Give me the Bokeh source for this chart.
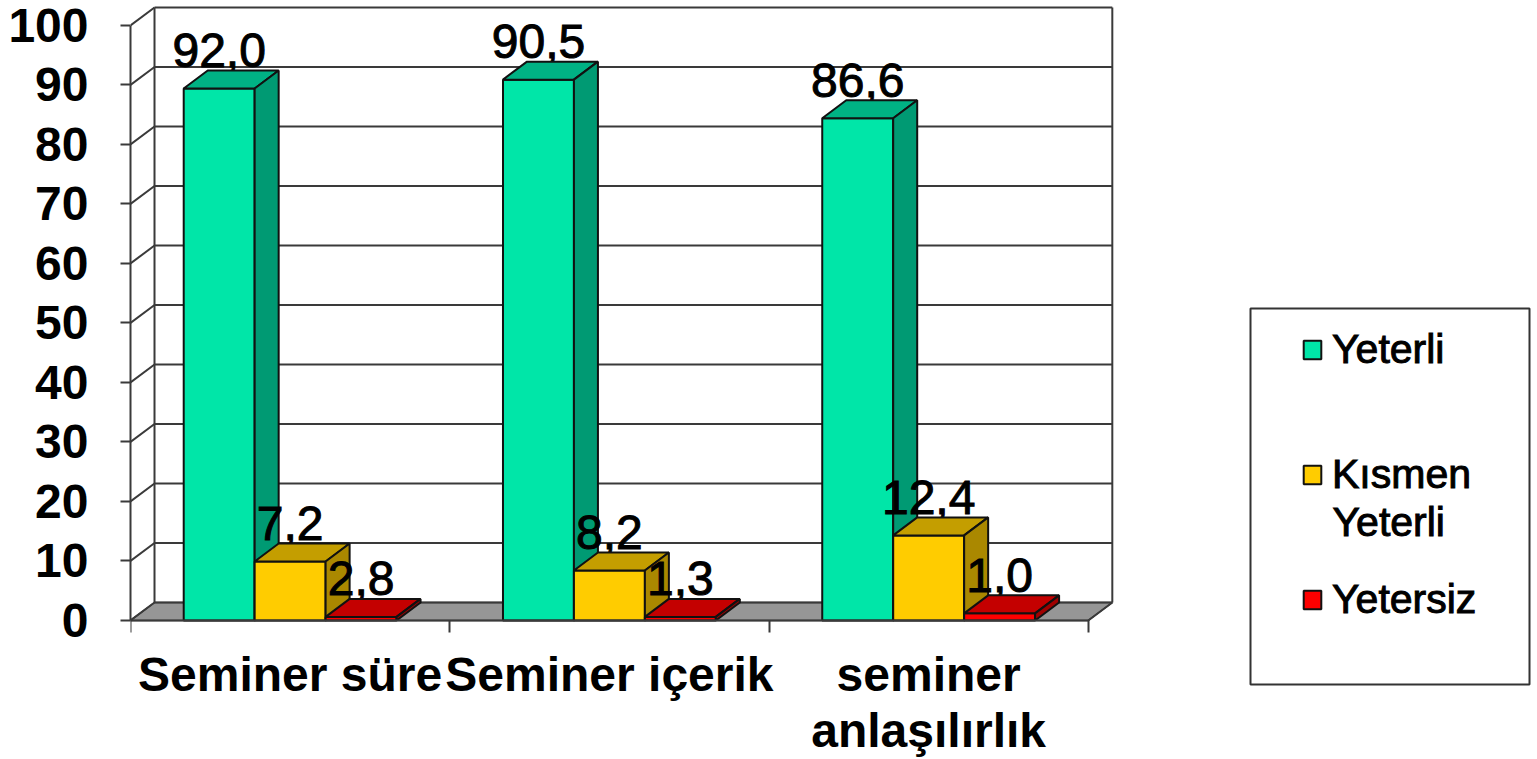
from bokeh.embed import file_html
from bokeh.resources import INLINE
from bokeh.plotting import figure
from bokeh.models import Range1d, FixedTicker, Legend, LegendItem, Label, BoxAnnotation
from bokeh.core.properties import value

categories = ["Seminer süre", "Seminer içerik", "seminer\nanlaşılırlık"]
y_ticks = [0, 10, 20, 30, 40, 50, 60, 70, 80, 90, 100]
series_names = ["Yeterli", "Kısmen", "Yetersiz"]
series_name_2nd_line = "Yeterli"
# bar heights as drawn in the picture (they differ from the printed labels)
yeterli = [89.4, 90.9, 84.4]
kismen = [9.9, 8.4, 14.3]
yetersiz = [0.6, 0.6, 1.2]
# printed labels
yeterli_labels = ["92,0", "90,5", "86,6"]
kismen_labels = ["7,2", "8,2", "12,4"]
yetersiz_labels = ["2,8", "1,3", "1,0"]

front = ["#00E6A8", "#FFCC00", "#FF0000"]
top = ["#00B284", "#C49E00", "#C40000"]
side = ["#009A73", "#AA8800", "#A00000"]

FONT = "Liberation Sans"
DX = 0.0752      # depth in x units
DY = 3.025       # depth in y units
BW = 2 / 9       # bar width
EDGE = "#3a3a3a"

p = figure(width=1535, height=757, output_backend="svg", toolbar_location=None,
           x_range=Range1d(0, 4.4007), y_range=Range1d(-23.03, 104.2),
           frame_width=1405, frame_height=757,
           min_border_left=130, min_border_right=0, min_border_top=0, min_border_bottom=0,
           outline_line_color=None, background_fill_color="white", border_fill_color="white")
p.xgrid.visible = False
p.ygrid.visible = False

# floor
ncat = len(categories)
p.patch([0, DX, ncat + DX, ncat], [0, DY, DY, 0], fill_color="#969696", line_color=EDGE, line_width=1.5)
# back wall and left wall lines
p.multi_line([[DX, ncat + DX] for _ in y_ticks] + [[0, DX] for _ in y_ticks],
             [[v + DY, v + DY] for v in y_ticks] + [[v, v + DY] for v in y_ticks],
             line_color=EDGE, line_width=2)
p.multi_line([[DX, DX], [ncat + DX, ncat + DX]],
             [[DY, y_ticks[-1] + DY], [DY, y_ticks[-1] + DY]],
             line_color=EDGE, line_width=2)
p.line([ncat, ncat + DX], [0, DY], line_color=EDGE, line_width=2)

items = []
all_vals = [yeterli, kismen, yetersiz]
all_labels = [yeterli_labels, kismen_labels, yetersiz_labels]
for s, (vals, labs) in enumerate(zip(all_vals, all_labels)):
    lefts = [i + (1 - 3 * BW) / 2 + s * BW for i in range(ncat)]
    centers = [l + BW / 2 for l in lefts]
    p.text(centers, [v + DY for v in vals], text=labs, text_font=value(FONT),
           text_font_size="48px", text_color="black", text_align="center",
           text_outline_color="black",
           text_baseline="alphabetic", y_offset=-20)
    r = p.vbar(x=centers, top=vals, bottom=0, width=BW, fill_color=front[s],
               line_color="#111111", line_width=2)
    p.patches([[l, l + DX, l + BW + DX, l + BW] for l in lefts],
              [[v, v + DY, v + DY, v] for v in vals],
              fill_color=top[s], line_color="#111111", line_width=2)
    p.patches([[l + BW, l + BW + DX, l + BW + DX, l + BW] for l in lefts],
              [[v, v + DY, DY, 0] for v in vals],
              fill_color=side[s], line_color="#111111", line_width=2)
    items.append(LegendItem(label=series_names[s], renderers=[r]))

# axes
ax = p.xaxis[0]
ax.fixed_location = 0
ax.ticker = FixedTicker(ticks=[i + 0.5 for i in range(ncat)], minor_ticks=list(range(ncat + 1)))
ax.major_label_overrides = {i + 0.5: c for i, c in enumerate(categories)}
ax.bounds = (0, ncat)
ax.major_tick_line_color = None
ax.major_tick_in = 0
ax.major_tick_out = 0
ax.minor_tick_in = 0
ax.minor_tick_out = 12
ax.minor_tick_line_color = EDGE
ax.minor_tick_line_width = 2
ax.axis_line_color = EDGE
ax.axis_line_width = 2
ax.major_label_standoff = 16
ax.major_label_text_font = FONT
ax.major_label_text_font_style = "bold"
ax.major_label_text_font_size = "48px"
ax.major_label_text_line_height = 1.05
ax.major_label_text_color = "black"

ay = p.yaxis[0]
ay.ticker = FixedTicker(ticks=y_ticks)
ay.bounds = (0, 100)
ay.major_tick_in = 0
ay.major_tick_out = 10
ay.minor_tick_line_color = None
ay.major_tick_line_color = EDGE
ay.major_tick_line_width = 2
ay.axis_line_color = EDGE
ay.axis_line_width = 2
ay.major_label_standoff = 32
ay.major_label_text_font = FONT
ay.major_label_text_font_style = "bold"
ay.major_label_text_font_size = "48px"
ay.major_label_text_color = "black"

box = BoxAnnotation(left=1250, right=1529, top=308, bottom=684,
                    left_units="canvas", right_units="canvas", top_units="canvas", bottom_units="canvas",
                    fill_color="white", fill_alpha=1, line_color="#333333", line_alpha=1, line_width=2)
p.add_layout(box)

legend = Legend(items=items, location=(1171, 134), orientation="vertical",
                glyph_width=22, glyph_height=23, label_standoff=9,
                label_text_font=FONT, label_text_font_size="41px", label_text_color="black",
                label_text_outline_color="black",
                padding=0, spacing=78, margin=0,
                border_line_color=None, background_fill_alpha=0)
p.add_layout(legend, "center")

p.add_layout(Label(x=1202, y=236, x_units="screen", y_units="screen", text=series_name_2nd_line,
                   text_font=FONT, text_font_size="41px", text_color="black",
                   text_outline_color="black",
                   text_baseline="alphabetic", text_align="left"))

open("out.html", "w").write(file_html(p, INLINE))
